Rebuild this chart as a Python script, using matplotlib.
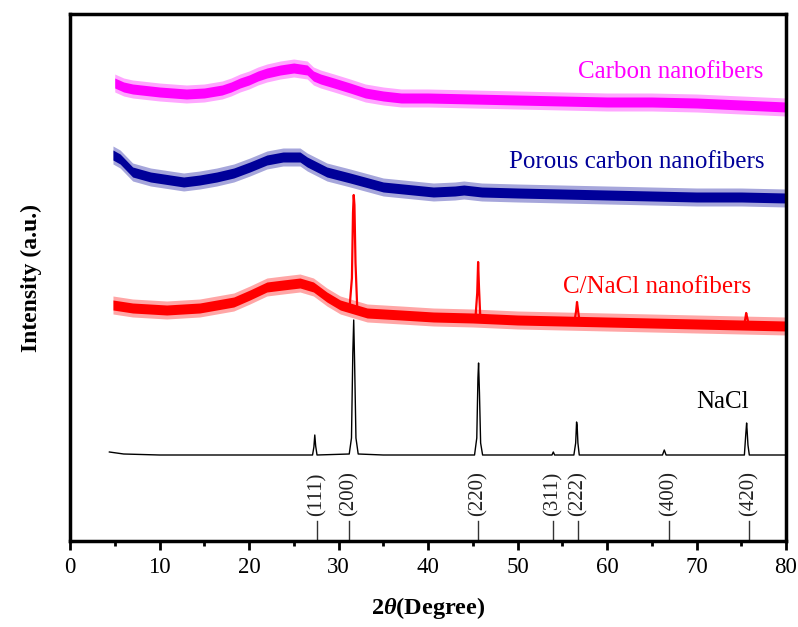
import matplotlib
matplotlib.use("Agg")
import matplotlib.pyplot as plt
import numpy as np

plt.rcParams['font.family'] = ['Liberation Serif', 'DejaVu Serif']
plt.rcParams['mathtext.fontset'] = 'custom'
plt.rcParams['mathtext.rm'] = 'Liberation Serif'
plt.rcParams['mathtext.bf'] = 'Liberation Serif:bold'
plt.rcParams['mathtext.it'] = 'Liberation Serif:italic'
plt.rcParams['mathtext.bfit'] = 'Liberation Serif:italic:bold'

# ---------------- data (arbitrary intensity units) -------------
# Carbon nanofibers (magenta) - smooth centre of the noisy trace
cnf_x = [5, 6, 7, 10, 13, 15, 17, 18, 19, 20, 21, 22, 23.5, 25, 26.5, 27.2, 28, 29.5,
         31.3, 33, 35, 37, 40, 45, 50, 55, 60, 65, 70, 75, 80]
cnf_y = [460, 456, 454, 451, 449, 450, 453, 456, 460, 463, 467, 470, 473, 475, 473, 467,
         464, 460, 455, 450, 447, 445, 445, 444, 443, 442, 441, 441, 440, 438, 436]

# Porous carbon nanofibers (navy)
pcnf_x = [4.8, 5.6, 7, 9, 12.7, 14.5, 16.4, 18.3, 20.1, 22, 23.8, 25.7, 26.5, 28.7, 31.3,
          35, 40.6, 43, 44, 46, 50, 55, 60, 65, 70, 75, 80]
pcnf_y = [388, 384, 371, 366, 361, 363, 366, 370, 376, 383, 386, 386, 381, 371, 365,
          356, 351, 352, 353, 351, 350, 349, 348, 347, 346, 346, 345]

# C/NaCl nanofibers (red) - amorphous background
cnacl_x = [4.8, 7, 10.8, 14.5, 18.3, 20.1, 22, 23.8, 25.7, 27.2, 28.7, 30.2, 33.2, 37,
           40.6, 45, 50, 55, 60, 65, 70, 75, 80]
cnacl_y = [238, 235, 233, 235, 241, 248, 256, 258, 260, 256, 246, 238, 230, 228,
           226, 225, 223, 222, 221, 220, 219, 218, 217]
# C/NaCl crystalline reflections (drawn as a line over the background)
cnacl_pk_x = [31.25, 31.5, 31.62, 31.7, 31.78, 31.9, 32.1,
              45.3, 45.5, 45.6, 45.7, 45.85,
              56.35, 56.55, 56.65, 56.8, 56.95,
              75.3, 75.45, 75.55, 75.7, 75.85]
cnacl_pk_y = [237, 265, 330, 348, 338, 280, 233,
              225, 250, 281, 255, 224,
              221, 232, 241, 230, 221,
              218, 224, 230, 224, 218]
cnacl_pk_group = [0] * 7 + [1] * 5 + [2] * 5 + [3] * 5

# NaCl (black)
nacl_x = [4.4, 6, 10, 15, 20, 25, 27.1, 27.25, 27.35, 27.45, 27.6,
          31.2, 31.45, 31.6, 31.7, 31.8, 31.95, 32.2, 35, 40,
          45.2, 45.45, 45.58, 45.65, 45.75, 45.88, 46.1, 50,
          53.85, 54.0, 54.15, 56.3, 56.5, 56.6, 56.66, 56.75, 56.9, 60,
          66.2, 66.4, 66.6, 70, 75.35, 75.5, 75.6, 75.66, 75.75, 75.9, 80]
nacl_y = [91, 89, 88, 88, 88, 88, 88, 96, 108, 97, 88,
          89, 105, 190, 223, 180, 105, 89, 88, 88,
          88, 105, 165, 180, 150, 100, 88, 88,
          88, 91, 88, 88, 100, 121, 118, 100, 88, 88,
          88, 93, 88, 88, 88, 108, 120, 112, 98, 88, 88]

# NaCl standard reflections
hkl_labels = ['(111)', '(200)', '(220)', '(311)', '(222)', '(400)', '(420)']
hkl_pos = [27.55, 31.2, 45.55, 53.95, 56.75, 66.95, 75.85]

series_names = ['Carbon nanofibers', 'Porous carbon nanofibers', 'C/NaCl nanofibers', 'NaCl']
series_colors = ['#FF00FF', '#000099', '#FF0000', '#000000']

# ---------------- figure ----------------
fig = plt.figure(figsize=(7.98, 6.27), dpi=100)
ax = fig.add_axes([70 / 798, (627 - 541) / 627, (786 - 70) / 798, (541 - 14.3) / 627])

core_hw = 5.0   # dense core of the noisy traces
outer_hw = 9.0  # extent of the noise spikes
for xs, ys, c in [(cnf_x, cnf_y, series_colors[0]),
                  (pcnf_x, pcnf_y, series_colors[1]),
                  (cnacl_x, cnacl_y, series_colors[2])]:
    xs = np.asarray(xs, float)
    ys = np.asarray(ys, float)
    ax.fill_between(xs, ys - outer_hw, ys + outer_hw, color=c, lw=0, alpha=0.35)
    ax.fill_between(xs, ys - core_hw, ys + core_hw, color=c, lw=0)

pk_x = np.asarray(cnacl_pk_x)
pk_y = np.asarray(cnacl_pk_y)
grp = np.asarray(cnacl_pk_group)
for g in np.unique(grp):
    m = grp == g
    ax.plot(pk_x[m], pk_y[m], color=series_colors[2], lw=1.6)

ax.plot(nacl_x, nacl_y, color='black', lw=1.0)

# reference lines and labels
for lab, p in zip(hkl_labels, hkl_pos):
    ax.plot([p, p], [2, 22], color='#333333', lw=1.0)
    ax.text(p, 27, lab, rotation=90, ha='center', va='bottom', fontsize=15, color='#222222')

# series labels
ax.text(77.5, 465, series_names[0], color=series_colors[0], fontsize=18, ha='right', va='baseline')
ax.text(77.6, 375, series_names[1], color=series_colors[1], fontsize=18, ha='right', va='baseline')
ax.text(76.1, 250, series_names[2], color=series_colors[2], fontsize=18, ha='right', va='baseline')
ax.text(75.9, 135, series_names[3], color=series_colors[3], fontsize=18, ha='right', va='baseline')

ax.set_xlim(0, 80)
ax.set_ylim(2, 528.7)
ax.set_xticks(np.arange(0, 81, 10))
ax.set_xticks(np.arange(5, 80, 10), minor=True)
ax.set_yticks([])
ax.tick_params(axis='x', which='major', direction='out', length=6.5, width=2, labelsize=16.5, pad=5)
ax.tick_params(axis='x', which='minor', direction='out', length=3.5, width=2)
for s in ax.spines.values():
    s.set_linewidth(2.5)

ax.set_xlabel(r'$\mathbf{2}\mathbfit{\theta}$(Degree)', fontsize=17.5, fontweight='bold', labelpad=12)
ax.set_ylabel('Intensity (a.u.)', fontsize=17, fontweight='bold', labelpad=20)

fig.savefig('out.png', dpi=100)
